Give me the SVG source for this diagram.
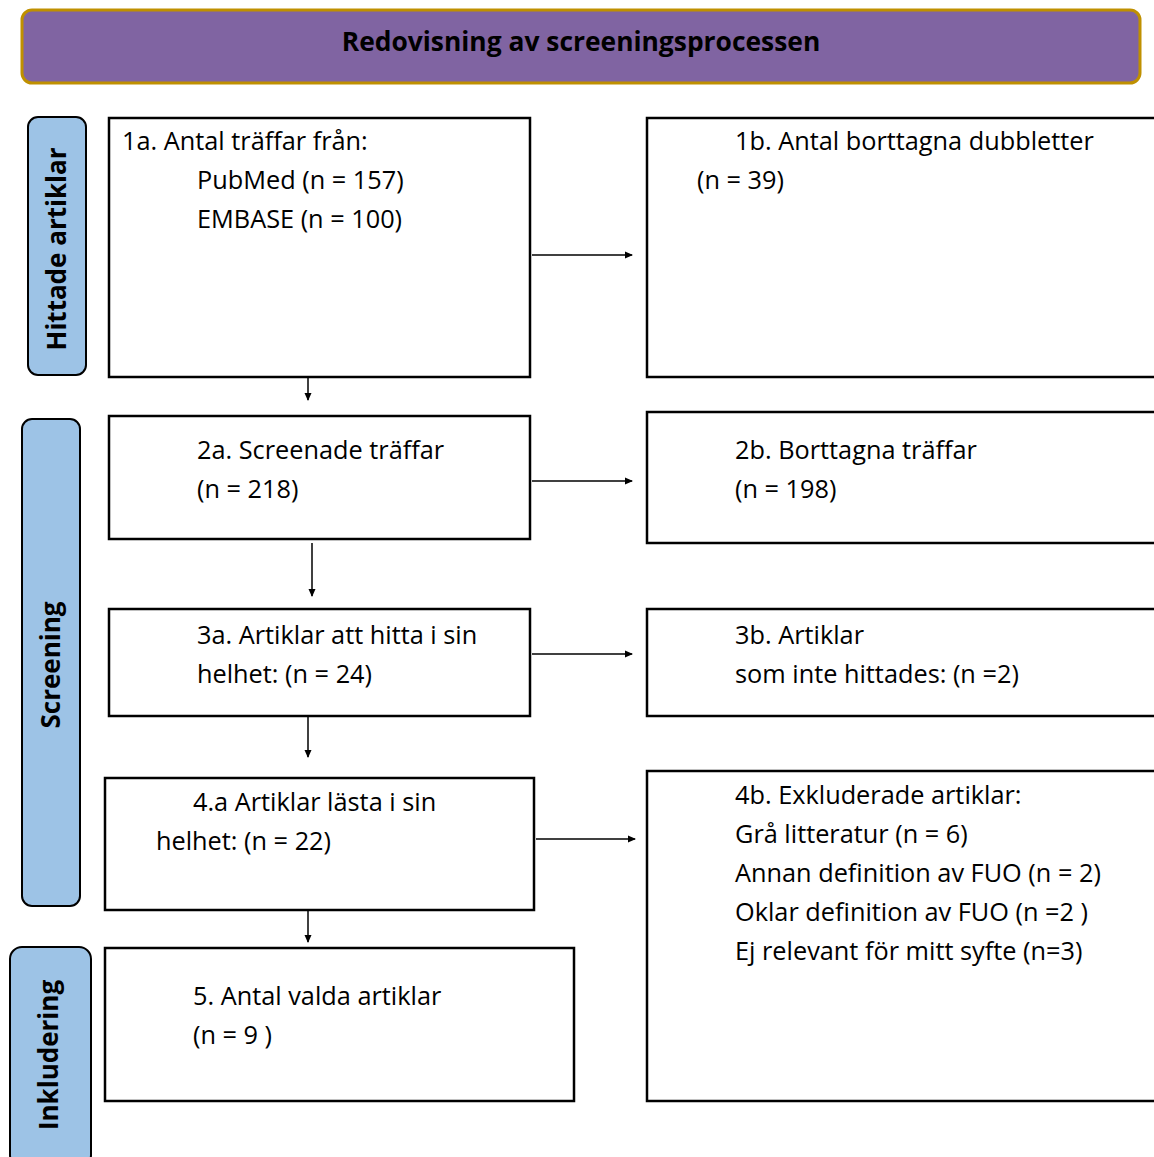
<svg xmlns="http://www.w3.org/2000/svg" width="1154" height="1157" viewBox="0 0 1154 1157">
<defs>
<marker id="ah" markerWidth="8" markerHeight="8" refX="7" refY="4" orient="auto" markerUnits="userSpaceOnUse">
<path d="M0,0.5 L8,4 L0,7.5 z" fill="#000"/>
</marker>
<style>
.box{fill:#fff;stroke:#000;stroke-width:2.5}
.side{fill:#9DC3E6;stroke:#000;stroke-width:2}
.t{font-family:"Open Sans","Liberation Sans",sans-serif;font-size:25.3px;fill:#000}
.sl{font-family:"Open Sans","Liberation Sans",sans-serif;font-size:26px;font-weight:bold;fill:#000}
.conn line{stroke:#000;stroke-width:1.5;marker-end:url(#ah)}
</style>
</defs>
<rect width="1154" height="1157" fill="#fff"/>
<g id="header">
<rect x="22" y="10" width="1118" height="73" rx="10" fill="#8064A2" stroke="#BF9000" stroke-width="3"/>
<text x="581" y="51" text-anchor="middle" class="sl" style="font-size:26.4px">Redovisning av screeningsprocessen</text>
</g>
<g id="side-hittade">
<rect class="side" x="28" y="117" width="58" height="258" rx="10"/>
<text class="sl" transform="translate(66,249) rotate(-90)" text-anchor="middle">Hittade artiklar</text>
</g>
<g id="side-screening">
<rect class="side" x="22" y="419" width="58" height="487" rx="10"/>
<text class="sl" transform="translate(60,665) rotate(-90)" text-anchor="middle">Screening</text>
</g>
<g id="side-inkludering">
<rect class="side" x="10" y="947" width="81" height="220" rx="12"/>
<text class="sl" transform="translate(58,1055) rotate(-90)" text-anchor="middle">Inkludering</text>
</g>
<g id="n1a">
<rect class="box" x="109" y="118" width="421" height="259"/>
<text class="t" x="122" y="150">1a. Antal träffar från:</text>
<text class="t" x="197" y="189">PubMed (n = 157)</text>
<text class="t" x="197" y="228">EMBASE (n = 100)</text>
</g>
<g id="n1b">
<rect class="box" x="647" y="118" width="520" height="259"/>
<text class="t" x="735" y="150">1b. Antal borttagna dubbletter</text>
<text class="t" x="697" y="189">(n = 39)</text>
</g>
<g id="n2a">
<rect class="box" x="109" y="416" width="421" height="123"/>
<text class="t" x="197" y="459">2a. Screenade träffar</text>
<text class="t" x="197" y="498">(n = 218)</text>
</g>
<g id="n2b">
<rect class="box" x="647" y="412" width="520" height="131"/>
<text class="t" x="735" y="459">2b. Borttagna träffar</text>
<text class="t" x="735" y="498">(n = 198)</text>
</g>
<g id="n3a">
<rect class="box" x="109" y="609" width="421" height="107"/>
<text class="t" x="197" y="644">3a. Artiklar att hitta i sin</text>
<text class="t" x="197" y="683">helhet: (n = 24)</text>
</g>
<g id="n3b">
<rect class="box" x="647" y="609" width="520" height="107"/>
<text class="t" x="735" y="644">3b. Artiklar</text>
<text class="t" x="735" y="683">som inte hittades: (n =2)</text>
</g>
<g id="n4a">
<rect class="box" x="105" y="778" width="429" height="132"/>
<text class="t" x="193" y="811">4.a Artiklar lästa i sin</text>
<text class="t" x="156" y="850">helhet: (n = 22)</text>
</g>
<g id="n4b">
<rect class="box" x="647" y="771" width="520" height="330"/>
<text class="t" x="735" y="804">4b. Exkluderade artiklar:</text>
<text class="t" x="735" y="843">Grå litteratur (n = 6)</text>
<text class="t" x="735" y="882">Annan definition av FUO (n = 2)</text>
<text class="t" x="735" y="921">Oklar definition av FUO (n =2 )</text>
<text class="t" x="735" y="960">Ej relevant för mitt syfte (n=3)</text>
</g>
<g id="n5">
<rect class="box" x="105" y="948" width="469" height="153"/>
<text class="t" x="193" y="1005">5. Antal valda artiklar</text>
<text class="t" x="193" y="1044">(n = 9 )</text>
</g>
<g id="connectors" class="conn">
<line x1="532" y1="255" x2="632" y2="255"/>
<line x1="308" y1="377" x2="308" y2="400"/>
<line x1="532" y1="481" x2="632" y2="481"/>
<line x1="312" y1="543" x2="312" y2="596"/>
<line x1="532" y1="654" x2="632" y2="654"/>
<line x1="308" y1="716" x2="308" y2="757"/>
<line x1="536" y1="839" x2="635" y2="839"/>
<line x1="308" y1="910" x2="308" y2="942"/>
</g>
</svg>
